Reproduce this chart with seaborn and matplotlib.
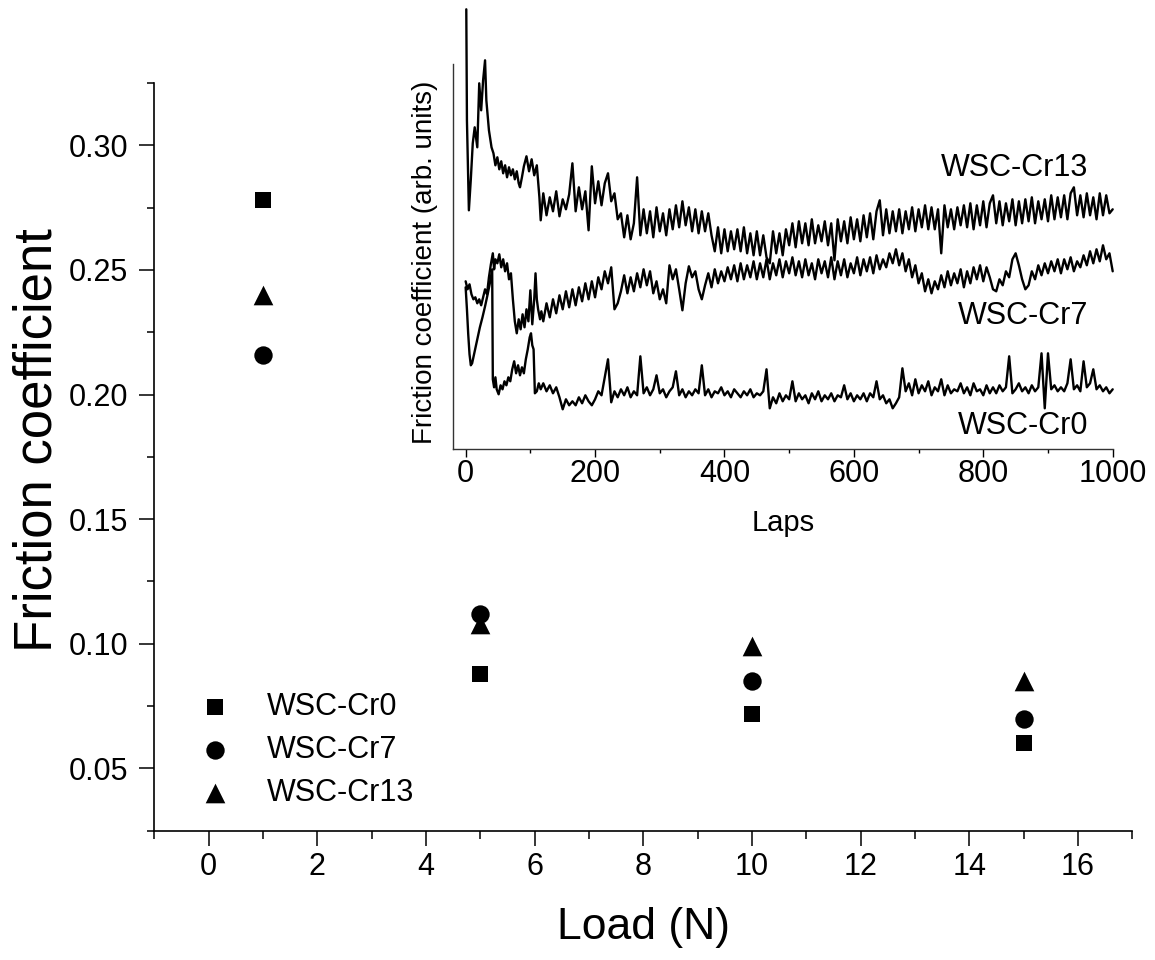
import numpy as np
import pandas as pd
import seaborn as sns
import matplotlib.pyplot as plt
from matplotlib.ticker import MultipleLocator, FormatStrFormatter

sns.set_style('ticks')
plt.rcParams['font.family'] = ['Liberation Sans', 'DejaVu Sans']
plt.rcParams['text.color'] = 'black'
plt.rcParams['axes.labelcolor'] = 'black'
plt.rcParams['xtick.color'] = 'black'
plt.rcParams['ytick.color'] = 'black'

# main plot: friction coefficient vs load
load = [1, 5, 10, 15]
cr0 = [0.278, 0.088, 0.072, 0.060]
cr7 = [0.216, 0.112, 0.085, 0.070]
cr13 = [0.240, 0.108, 0.099, 0.085]
series_names = ['WSC-Cr0', 'WSC-Cr7', 'WSC-Cr13']

# inset: friction traces vs laps (arb. units)
cr13_laps_start = [1, 2, 3, 5, 8, 11, 14, 18, 21, 24, 27, 30, 32, 36, 40, 43, 46, 49, 52, 55,
                   58, 61, 64, 67, 70, 73, 76, 79, 82, 84, 87, 90, 94, 98, 102, 106, 110, 112,
                   114, 116]
cr13_start = [440, 329, 300, 239, 270, 306, 322, 302, 366, 339, 369, 389, 349, 319, 302, 296,
              284, 292, 280, 288, 276, 284, 272, 282, 274, 280, 270, 278, 266, 262, 272, 283,
              293, 278, 290, 274, 284, 268, 252, 229]
cr7_laps_start = [0, 3, 6, 9, 12, 15, 18, 21, 24, 27, 30, 33, 36, 39, 42, 44, 46, 49, 52, 55,
                  58, 61, 64, 67, 70, 73, 76, 79, 82, 85, 88, 91, 94, 97, 100, 103, 106, 108,
                  110, 112, 115, 117]
cr7_start = [168, 160, 165, 155, 150, 152, 146, 150, 144, 152, 160, 155, 172, 185, 196, 180,
             190, 186, 195, 182, 190, 178, 186, 170, 176, 150, 128, 116, 130, 120, 135, 122,
             140, 128, 159, 125, 150, 176, 150, 140, 130, 138]
cr0_laps_start = [0, 2, 4, 6, 8, 10, 14, 18, 22, 26, 30, 34, 38, 41, 42, 44, 46, 48, 51, 54,
                  57, 60, 63, 66, 69, 72, 75, 78, 81, 84, 87, 90, 93, 96, 99, 101, 103, 105,
                  107, 110, 113, 116]
cr0_start = [162, 140, 115, 95, 84, 86, 98, 110, 122, 132, 143, 155, 168, 180, 70, 62, 72, 60,
             55, 64, 60, 68, 64, 72, 68, 80, 88, 76, 84, 74, 82, 76, 90, 100, 112, 116, 104,
             100, 56, 58, 66, 60]

laps_tail = np.arange(120, 1001, 5)  # sampled every 5 laps from lap 120
cr13_tail = [256, 234, 252, 238, 258, 233, 250, 240, 255, 286,
             238, 262, 240, 258, 219, 283, 246, 268, 244, 266,
             276, 248, 256, 230, 236, 212, 234, 210, 226, 272,
             214, 240, 216, 238, 212, 242, 218, 236, 214, 240,
             220, 244, 222, 248, 224, 242, 218, 240, 216, 238,
             218, 236, 214, 198, 222, 196, 220, 198, 218, 200,
             220, 198, 222, 196, 216, 194, 218, 194, 214, 192,
             186, 218, 196, 216, 194, 220, 204, 226, 202, 228,
             206, 226, 204, 230, 206, 224, 208, 228, 204, 226,
             189, 230, 208, 228, 206, 232, 210, 230, 208, 234,
             212, 236, 210, 238, 249, 214, 240, 216, 238, 218,
             240, 216, 238, 220, 242, 218, 240, 222, 244, 220,
             242, 220, 240, 196, 244, 222, 240, 220, 242, 224,
             244, 222, 246, 220, 244, 224, 248, 222, 246, 254,
             226, 248, 224, 246, 228, 250, 224, 248, 226, 250,
             228, 252, 226, 248, 230, 250, 228, 254, 230, 252,
             232, 254, 230, 256, 262, 234, 254, 232, 256, 234,
             252, 230, 256, 234, 254, 236, 240]
cr7_tail = [128, 146, 132, 150, 136, 154, 140, 158, 142, 160,
            144, 162, 148, 166, 150, 168, 152, 172, 160, 178,
            166, 182, 140, 146, 158, 174, 156, 172, 158, 176,
            162, 180, 164, 178, 156, 168, 150, 160, 146, 184,
            170, 180, 160, 139, 166, 183, 172, 178, 160, 150,
            164, 176, 162, 180, 166, 178, 168, 182, 170, 184,
            168, 186, 170, 184, 172, 188, 170, 186, 172, 190,
            170, 186, 174, 190, 172, 188, 176, 192, 174, 188,
            172, 190, 174, 186, 170, 190, 176, 188, 172, 192,
            170, 188, 174, 190, 172, 186, 176, 192, 174, 190,
            178, 192, 176, 194, 180, 190, 182, 196, 186, 200,
            184, 196, 178, 190, 172, 184, 166, 176, 158, 170,
            156, 168, 160, 174, 162, 178, 164, 176, 166, 180,
            162, 178, 166, 182, 170, 184, 168, 182, 172, 160,
            158, 170, 164, 178, 172, 190, 196, 184, 170, 160,
            164, 178, 170, 184, 174, 186, 176, 188, 178, 190,
            176, 190, 180, 192, 178, 188, 182, 194, 184, 198,
            186, 200, 188, 204, 190, 196, 178]
cr0_tail = [66, 58, 64, 56, 62, 52, 40, 50, 44, 48,
            44, 52, 46, 54, 48, 44, 50, 58, 54, 72,
            90, 47, 58, 52, 60, 54, 62, 52, 58, 54,
            93, 56, 62, 54, 60, 74, 56, 60, 52, 58,
            62, 78, 54, 60, 52, 58, 54, 60, 56, 84,
            54, 60, 52, 58, 56, 62, 54, 58, 52, 60,
            56, 52, 58, 54, 60, 52, 56, 54, 58, 80,
            41, 52, 46, 56, 48, 54, 50, 68, 48, 56,
            50, 54, 46, 56, 50, 58, 48, 54, 50, 56,
            48, 54, 52, 64, 50, 56, 48, 54, 50, 56,
            48, 56, 52, 68, 50, 54, 46, 50, 41, 46,
            52, 81, 58, 66, 54, 70, 56, 64, 58, 68,
            54, 62, 58, 70, 54, 64, 56, 60, 58, 66,
            56, 62, 54, 66, 58, 60, 54, 64, 56, 62,
            56, 64, 58, 62, 93, 56, 60, 66, 58, 62,
            56, 64, 58, 62, 96, 41, 96, 60, 64, 58,
            62, 58, 66, 90, 60, 64, 58, 88, 62, 66,
            80, 60, 64, 58, 62, 56, 60]

fig = plt.figure(figsize=(11.55, 9.6), dpi=100)
ax = fig.add_axes([154.3 / 1155, 129.3 / 960, 978 / 1155, 747.7 / 960])

markers = ['s', 'o', '^']
sizes = [132, 175, 200]
for vals, name, m, s in zip([cr0, cr7, cr13], series_names, markers, sizes):
    sns.scatterplot(x=load, y=vals, marker=m, s=s, color='black', edgecolor='black',
                    linewidth=0, label=name, ax=ax)

ax.set_xlim(-1, 17)
ax.set_ylim(0.025, 0.325)
ax.xaxis.set_major_locator(MultipleLocator(2))
ax.xaxis.set_minor_locator(MultipleLocator(1))
ax.yaxis.set_major_locator(MultipleLocator(0.05))
ax.yaxis.set_minor_locator(MultipleLocator(0.025))
ax.yaxis.set_major_formatter(FormatStrFormatter('%.2f'))
ax.tick_params(which='major', length=10.8, width=1.1, labelsize=22, color='black')
ax.tick_params(axis='x', which='major', pad=4.8)
ax.tick_params(axis='y', which='major', pad=8)
ax.tick_params(which='minor', length=5.4, width=1.1, color='black')
sns.despine(ax=ax)
for sp in ['left', 'bottom']:
    ax.spines[sp].set_linewidth(1.2)
    ax.spines[sp].set_color('black')

ax.set_xlabel('Load (N)', fontsize=32)
ax.xaxis.set_label_coords(0.5, -0.102)
ax.set_ylabel('Friction coefficient', fontsize=38)
ax.yaxis.set_label_coords(-0.0934, 0.5225)

handles, labels = ax.get_legend_handles_labels()
ax.legend(handles, labels, loc='lower left', bbox_to_anchor=(0.0464, 0.0304), frameon=False,
          fontsize=22, handlelength=1.0, handletextpad=1.2, labelspacing=0.43,
          borderpad=0, borderaxespad=0)

# inset
ax2 = fig.add_axes([452.7 / 1155, 510.7 / 960, 660 / 1155, 385 / 960])
traces = [
    (cr13_laps_start, cr13_start, cr13_tail),
    (cr7_laps_start, cr7_start, cr7_tail),
    (cr0_laps_start, cr0_start, cr0_tail),
]
for laps_s, vals_s, vals_t in traces:
    df = pd.DataFrame({'Laps': np.concatenate([laps_s, laps_tail]),
                       'mu': np.concatenate([vals_s, vals_t])})
    sns.lineplot(data=df, x='Laps', y='mu', color='black', linewidth=1.7,
                 estimator=None, ax=ax2)
for ln in ax2.lines:
    ln.set_clip_on(False)

ax2.set_xlim(-20, 1000)
ax2.set_ylim(0, 385)
ax2.set_yticks([])
ax2.xaxis.set_major_locator(MultipleLocator(200))
ax2.xaxis.set_minor_locator(MultipleLocator(100))
ax2.tick_params(axis='x', which='major', length=5.8, width=1.0, labelsize=22, pad=1.5)
ax2.tick_params(axis='x', which='minor', length=2.9, width=1.0)
sns.despine(ax=ax2)
for sp in ['left', 'bottom']:
    ax2.spines[sp].set_linewidth(1.0)
    ax2.spines[sp].set_color('0.2')
ax2.patch.set_alpha(0)
ax2.set_xlabel('Laps', fontsize=21)
ax2.xaxis.set_label_coords(0.5, -0.156)
ax2.set_ylabel('Friction coefficient (arb. units)', fontsize=20)
ax2.yaxis.set_label_coords(-0.0229, 0.4865)

ax2.text(962, 281, 'WSC-Cr13', ha='right', va='center', fontsize=22)
ax2.text(962, 133, 'WSC-Cr7', ha='right', va='center', fontsize=22)
ax2.text(962, 23, 'WSC-Cr0', ha='right', va='center', fontsize=22)

fig.savefig('out.png', dpi=100)
